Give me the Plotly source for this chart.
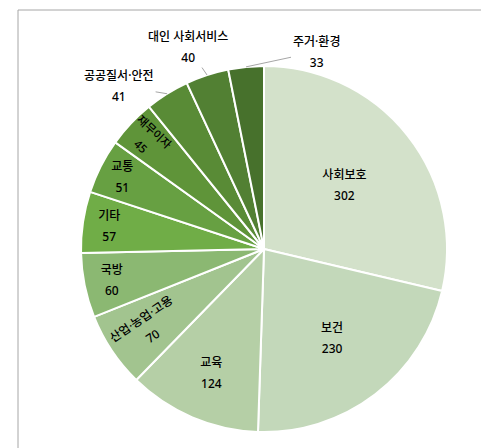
import math
import plotly.graph_objects as go

labels = ["사회보호", "보건", "교육", "산업·농업·고용", "국방", "기타", "교통",
          "재무이자", "공공질서·안전", "대인 사회서비스", "주거·환경"]
values = [302, 230, 124, 70, 60, 57, 51, 45, 41, 40, 33]
colors = ["#D3E1CA", "#C3D8BA", "#B5CFA6", "#A2C48F", "#8BB872", "#70AD47",
          "#67A042", "#5F9439", "#598B36", "#528033", "#47712C"]
outside = [False] * 8 + [True] * 3
# label offsets (px) for the outside labels, relative to the slice edge
offsets = {8: (-48, -8), 9: (-19, -28), 10: (70, -15)}

W, H = 489, 448
cx, cy, r = 256, 241, 183
FONT = "Noto Sans, Noto Sans CJK KR"

TXT = "<span style='font-size:12px'>{}<br>{}</span>"
texts = ["" if o else TXT.format(l, v) for l, v, o in zip(labels, values, outside)]
positions = ["none" if o else "inside" for o in outside]

fig = go.Figure(go.Pie(
    labels=labels, values=values, sort=False, direction="clockwise", rotation=0,
    marker=dict(colors=colors, line=dict(color="white", width=2)),
    text=texts, textinfo="text", textposition=positions,
    insidetextorientation="auto", automargin=False,
    textfont=dict(family=FONT, size=16, color="black", weight=500),
    domain=dict(x=[(cx - r) / W, (cx + r) / W], y=[1 - (cy + r) / H, 1 - (cy - r) / H]),
    hoverinfo="label+value", showlegend=False,
))

total = sum(values)
annotations = []
cum = 0
for i, v in enumerate(values):
    mid = (cum + v / 2) / total * 2 * math.pi
    cum += v
    if not outside[i]:
        continue
    px = cx + r * math.sin(mid)
    py = cy - r * math.cos(mid)
    ax, ay = offsets[i]
    annotations.append(dict(
        x=px / W, y=1 - py / H, xref="paper", yref="paper",
        text=TXT.format(labels[i], values[i]), showarrow=True,
        ax=ax, ay=ay, arrowhead=0, arrowwidth=1, arrowcolor="#A6A6A6",
        standoff=0, startstandoff=0,
        font=dict(family=FONT, size=16, color="black", weight=500),
    ))

fig.update_layout(
    width=W, height=H, margin=dict(l=0, r=0, t=0, b=0),
    paper_bgcolor="white", plot_bgcolor="white",
    annotations=annotations,
    shapes=[dict(type="rect", xref="paper", yref="paper",
                 x0=10 / W, x1=1.05, y0=-0.05, y1=1 - 2 / H,
                 line=dict(color="#A6A6A6", width=1))],
)
fig.write_html("out.html")
